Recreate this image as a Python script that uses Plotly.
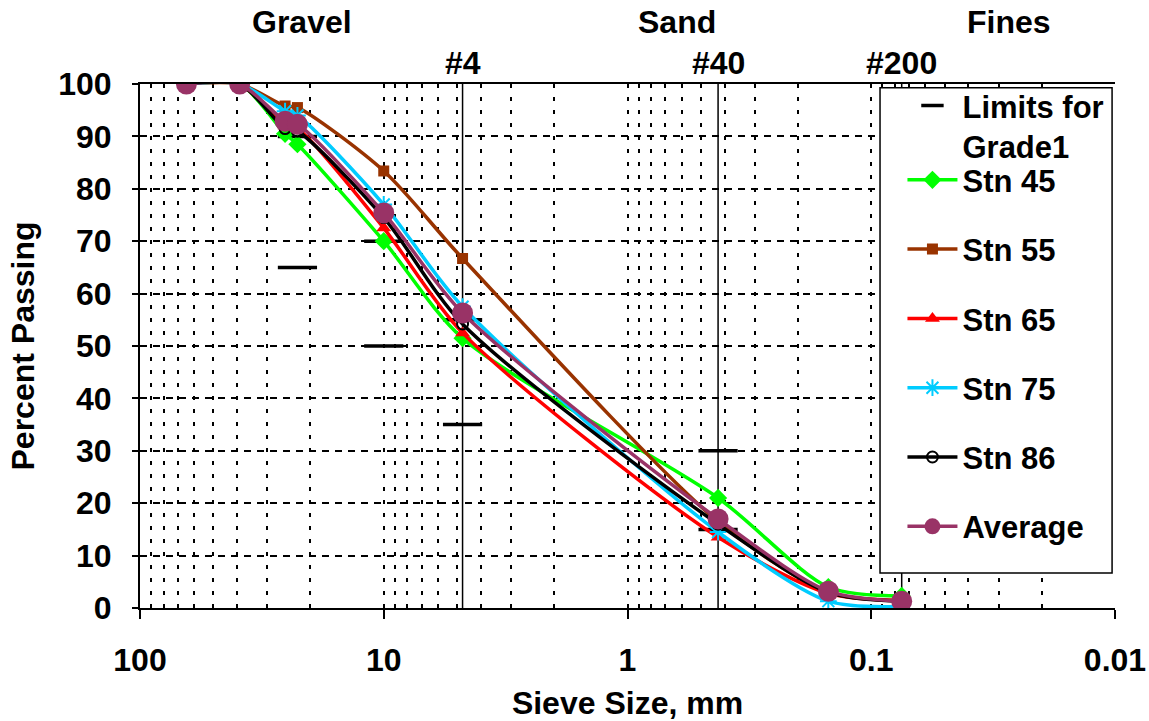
import math
import plotly.graph_objects as go

# ---- data ----
sieve_mm = [64.5, 39, 25.4, 22.6, 10, 4.75, 0.425, 0.15, 0.075]
stn45 = [100, 100, 90.5, 88.5, 70, 51.5, 21, 4, 2.3]
stn55 = [100, 100, 95.8, 95.5, 83.4, 66.7, 16.5, 3, 1.5]
stn65 = [100, 100, 92, 91.5, 72.5, 52.5, 13.5, 2.8, 1.4]
stn75 = [100, 100, 94.8, 94, 77, 57.5, 14.5, 1.3, 0.3]
stn86 = [100, 100, 91.5, 91, 74.5, 54.2, 16, 3, 1.3]
average = [100, 100, 92.9, 92.3, 75.4, 56.3, 17, 3.2, 1.3]

limit_x = [22.6, 22.6, 10, 10, 4.75, 4.75, 0.425, 0.425]
limit_y = [90, 65, 70, 50, 55, 35, 30, 15]

sieve_lines = [4.75, 0.425, 0.075]
sieve_labels = ["#4", "#40", "#200"]
zone_labels = ["Gravel", "Sand", "Fines"]
zone_pos = [0.166, 0.551, 0.891]

x_ticks = [100, 10, 1, 0.1, 0.01]
x_ticktext = ["100", "10", "1", "0.1", "0.01"]

FONT = "Liberation Sans, Arial, sans-serif"
BF = dict(family=FONT, size=32, color="black", weight="bold")
LF = dict(family=FONT, size=31, color="black", weight="bold")

fig = go.Figure()

# sieve reference lines
for sx in sieve_lines:
    fig.add_trace(go.Scatter(x=[sx, sx], y=[0, 100], mode="lines",
                             line=dict(color="black", width=1.5),
                             showlegend=False, hoverinfo="skip"))

# limits
fig.add_trace(go.Scatter(x=limit_x, y=limit_y, mode="markers", name="Limits for<br>Grade1",
                         marker=dict(symbol="line-ew", size=28,
                                     line=dict(color="black", width=3.5)),
                         legend="legend2"))

series = [
    ("Stn 45", stn45, "#00FF00", "diamond", 14, dict()),
    ("Stn 55", stn55, "#993300", "square", 11, dict()),
    ("Stn 65", stn65, "#FF0000", "triangle-up", 13, dict()),
    ("Stn 75", stn75, "#00CCFF", "asterisk-open", 14, dict(line=dict(color="#00CCFF", width=2))),
    ("Stn 86", stn86, "#000000", "circle-open", 11, dict(line=dict(color="#000000", width=2))),
    ("Average", average, "#993366", "circle", 21, dict()),
]
for nm, ys, col, sym, sz, extra in series:
    mk = dict(symbol=sym, size=sz, color=col)
    mk.update(extra)
    fig.add_trace(go.Scatter(x=sieve_mm, y=ys, mode="lines+markers", name=nm,
                             line=dict(color=col, width=3.5, shape="spline", smoothing=0.8),
                             marker=mk, legendgroup=nm, legend="legend"))

annotations = []
for lbl, px in zip(zone_labels, zone_pos):
    annotations.append(dict(text=lbl, x=px, y=1.118, xref="paper", yref="paper",
                            showarrow=False, font=BF,
                            xanchor="center", yanchor="middle"))
for lbl, sx in zip(sieve_labels, sieve_lines):
    annotations.append(dict(text=lbl, x=math.log10(sx), y=1.04, xref="x", yref="paper",
                            showarrow=False, font=BF,
                            xanchor="center", yanchor="middle"))

fig.update_layout(
    width=1149, height=721,
    margin=dict(l=140, r=34, t=84, b=113),
    paper_bgcolor="white", plot_bgcolor="white",
    font=BF,
    showlegend=True,
    hovermode=False,
    annotations=annotations,
    legend=dict(x=0.782, y=0.868, xanchor="left", yanchor="top",
                bgcolor="rgba(0,0,0,0)", borderwidth=0,
                font=LF, tracegroupgap=26, itemwidth=50),
    legend2=dict(x=0.782, y=1.01, xanchor="left", yanchor="top",
                 bgcolor="rgba(0,0,0,0)", borderwidth=0, valign="top",
                 font=LF, itemwidth=50),
    shapes=[dict(type="rect", xref="paper", yref="paper", x0=0.759, x1=0.997,
                 y0=0.067, y1=0.993, fillcolor="white",
                 line=dict(color="black", width=1.5), layer="above")],
    xaxis=dict(type="log", range=[2, -2], tickvals=x_ticks, ticktext=x_ticktext,
               automargin=False,
               showline=True, linecolor="black", linewidth=2, mirror=True,
               ticks="outside", ticklen=9, tickwidth=1.5, tickcolor="black",
               ticklabelstandoff=14,
               showgrid=True, gridcolor="black", gridwidth=2, griddash="4px,9px",
               minor=dict(dtick="D1", showgrid=True, gridcolor="black", gridwidth=2,
                          griddash="4px,9px", ticks=""),
               tickfont=BF,
               title=dict(text="Sieve Size, mm", font=BF, standoff=18),
               zeroline=False),
    yaxis=dict(range=[0, 100], tickvals=list(range(0, 101, 10)),
               automargin=False,
               showline=True, linecolor="black", linewidth=2, mirror=False,
               ticks="outside", ticklen=6, tickwidth=1.5, tickcolor="black",
               ticklabelstandoff=14,
               showgrid=True, gridcolor="black", gridwidth=2, griddash="7px,6px",
               tickfont=BF,
               title=dict(text="Percent Passing", font=BF, standoff=14),
               zeroline=False),
)

fig.write_html("out.html", config={"displayModeBar": False},
               post_script="document.body.style.margin='0';document.body.style.overflow='hidden';")
